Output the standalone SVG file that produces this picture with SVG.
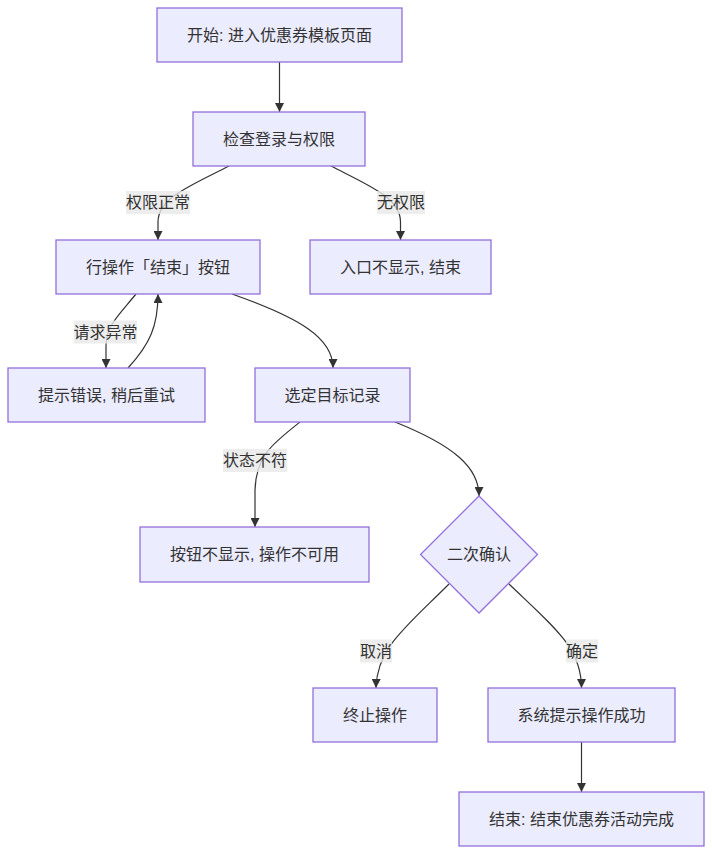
<svg xmlns="http://www.w3.org/2000/svg" width="712" height="854" viewBox="0 0 712 854">
<style>
.node rect, .node polygon { fill: #ECECFF; stroke: #9370DB; stroke-width: 1.3; }
.node text { font-family: "Liberation Sans", "Noto Sans CJK SC", sans-serif; font-size: 16px; fill: #333333; text-anchor: middle; dominant-baseline: central; }
.edges path { fill: none; stroke: #333333; stroke-width: 1.2; }
.lbl rect { fill: #e8e8e8; fill-opacity: 0.8; stroke: none; }
.lbl text { font-family: "Liberation Sans", "Noto Sans CJK SC", sans-serif; font-size: 16px; fill: #333333; text-anchor: middle; dominant-baseline: central; }
</style>
<defs>
<marker id="arrow" viewBox="0 0 10 10" refX="10" refY="5" markerWidth="9" markerHeight="9" markerUnits="userSpaceOnUse" orient="auto">
<path d="M0,0 L10,5 L0,10 z" fill="#333333"/>
</marker>
</defs>
<rect width="712" height="854" fill="#ffffff"/>
<g class="edges">
<path d="M279.5,62 L279.5,112" marker-end="url(#arrow)"/>
<path d="M229,166 C190,186 158,198 158,222 L158,240" marker-end="url(#arrow)"/>
<path d="M331,166 C370,186 400.5,198 400.5,222 L400.5,240" marker-end="url(#arrow)"/>
<path d="M136,294 C118,316 106,326 106,346 L106,368" marker-end="url(#arrow)"/>
<path d="M128,368 C150,344 158,326 158,294" marker-end="url(#arrow)"/>
<path d="M232,294 C300,318 333,338 333,368" marker-end="url(#arrow)"/>
<path d="M300,422 C272,444 256,456 255,490 L255,527" marker-end="url(#arrow)"/>
<path d="M395,422 C455,446 479,468 479,496" marker-end="url(#arrow)"/>
<path d="M449,584 C405,628 377,648 376,688" marker-end="url(#arrow)"/>
<path d="M509,584 C555,628 581.5,648 581.5,688" marker-end="url(#arrow)"/>
<path d="M581.5,742 L581.5,792" marker-end="url(#arrow)"/>
</g>
<g class="lbl">
<g id="lbl-perm-ok"><rect x="126" y="191" width="64" height="23"/><text x="158" y="202.5">权限正常</text></g>
<g id="lbl-no-perm"><rect x="377" y="191" width="48" height="23"/><text x="401" y="202.5">无权限</text></g>
<g id="lbl-req-err"><rect x="74" y="320.5" width="63" height="23"/><text x="105.5" y="332">请求异常</text></g>
<g id="lbl-state"><rect x="223" y="449" width="64" height="23"/><text x="255" y="460.5">状态不符</text></g>
<g id="lbl-cancel"><rect x="360" y="639.5" width="32" height="23"/><text x="376" y="651">取消</text></g>
<g id="lbl-confirm"><rect x="566" y="639.5" width="32" height="23"/><text x="582" y="651">确定</text></g>
</g>
<g id="n-start" class="node"><rect x="157" y="8" width="245" height="54"/><text x="279.5" y="35">开始: 进入优惠券模板页面</text></g>
<g id="n-check" class="node"><rect x="193" y="112" width="172" height="54"/><text x="279" y="139">检查登录与权限</text></g>
<g id="n-rowbtn" class="node"><rect x="56" y="240" width="204" height="54"/><text x="158" y="267">行操作「结束」按钮</text></g>
<g id="n-noentry" class="node"><rect x="310" y="240" width="181" height="54"/><text x="400.5" y="267">入口不显示, 结束</text></g>
<g id="n-err" class="node"><rect x="8" y="368" width="197" height="54"/><text x="106.5" y="395">提示错误, 稍后重试</text></g>
<g id="n-select" class="node"><rect x="255" y="368" width="155" height="54"/><text x="332.5" y="395">选定目标记录</text></g>
<g id="n-hidden" class="node"><rect x="140" y="527" width="229" height="55"/><text x="254.5" y="554.5">按钮不显示, 操作不可用</text></g>
<g id="n-confirm" class="node"><polygon points="479,496 537.5,554.5 479,613 420.5,554.5"/><text x="479" y="554.5">二次确认</text></g>
<g id="n-abort" class="node"><rect x="313" y="688" width="124" height="54"/><text x="375" y="715">终止操作</text></g>
<g id="n-success" class="node"><rect x="488" y="688" width="187" height="54"/><text x="581.5" y="715">系统提示操作成功</text></g>
<g id="n-end" class="node"><rect x="459" y="792" width="245" height="54"/><text x="581.5" y="819">结束: 结束优惠券活动完成</text></g>
</svg>
